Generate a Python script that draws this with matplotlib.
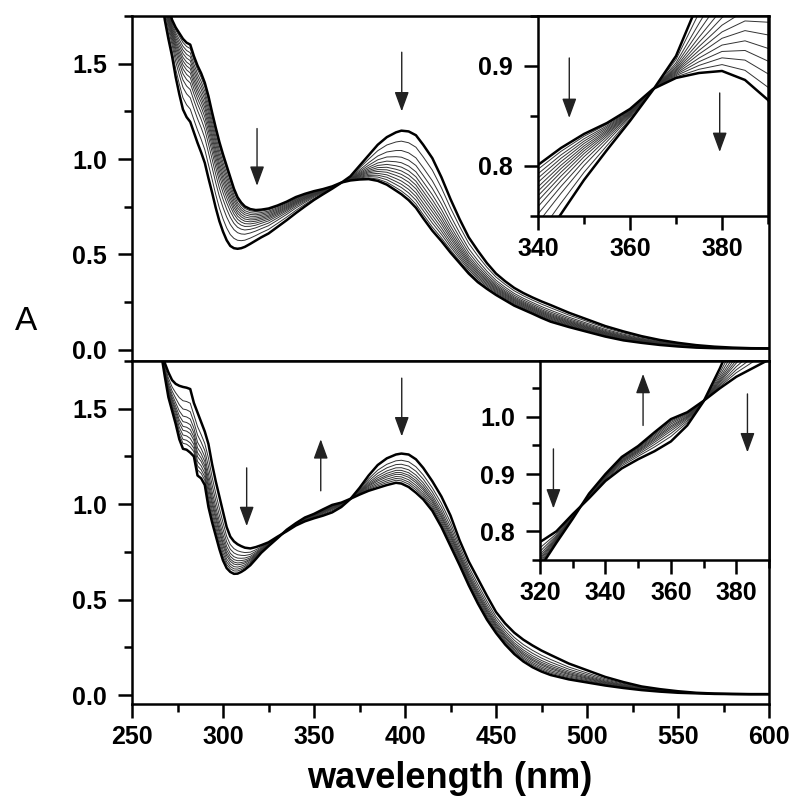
import numpy as np
import matplotlib.pyplot as plt
from matplotlib.ticker import MultipleLocator

plt.rcParams['font.family'] = ['Liberation Sans', 'DejaVu Sans']

# wavelength grid (nm) shared by all spectra
wl = [260, 265, 268, 270, 272, 274, 276, 278, 280, 282,
      284, 286, 288, 290, 292, 294, 296, 298, 300, 302,
      304, 306, 308, 310, 312, 315, 318, 321, 325, 330,
      335, 340, 345, 350, 355, 360, 365, 370, 375, 380,
      385, 390, 395, 398, 402, 406, 410, 415, 420, 425,
      430, 435, 440, 445, 450, 455, 460, 465, 470, 475,
      480, 490, 500, 510, 520, 530, 540, 550, 560, 570,
      580, 590, 600]

# upper panel: first and last spectrum (absorbance)
top_start = [2.30, 1.95, 1.73, 1.63, 1.54, 1.43, 1.34, 1.26, 1.22, 1.195,
             1.14, 1.085, 1.035, 0.98, 0.90, 0.825, 0.745, 0.675, 0.62, 0.575,
             0.545, 0.533, 0.53, 0.533, 0.54, 0.556, 0.573, 0.59, 0.61, 0.645,
             0.68, 0.717, 0.752, 0.786, 0.816, 0.845, 0.876, 0.91, 0.965, 1.02,
             1.075, 1.115, 1.14, 1.149, 1.145, 1.125, 1.075, 1.005, 0.905, 0.79,
             0.685, 0.59, 0.52, 0.455, 0.40, 0.36, 0.325, 0.298, 0.275, 0.254,
             0.235, 0.195, 0.16, 0.125, 0.097, 0.072, 0.052, 0.037, 0.025, 0.017,
             0.012, 0.009, 0.008]
top_end = [2.40, 2.05, 1.88, 1.80, 1.73, 1.69, 1.66, 1.63, 1.61, 1.60,
           1.54, 1.49, 1.45, 1.40, 1.33, 1.245, 1.165, 1.09, 1.025, 0.965,
           0.905, 0.845, 0.80, 0.772, 0.752, 0.738, 0.733, 0.735, 0.741, 0.757,
           0.777, 0.801, 0.818, 0.832, 0.843, 0.857, 0.877, 0.888, 0.893, 0.895,
           0.886, 0.866, 0.835, 0.816, 0.785, 0.745, 0.69, 0.625, 0.57, 0.51,
           0.455, 0.40, 0.355, 0.32, 0.288, 0.26, 0.232, 0.211, 0.19, 0.168,
           0.148, 0.12, 0.095, 0.07, 0.05, 0.037, 0.026, 0.018, 0.012, 0.009,
           0.008, 0.007, 0.007]
# absorbance at 398 nm of every recorded spectrum, upper panel
top_peaks = [1.149, 1.094, 1.045, 1.010, 0.981, 0.958, 0.938, 0.920,
             0.903, 0.885, 0.868, 0.851, 0.833, 0.816]

# lower panel
bottom_start = [2.30, 1.92, 1.74, 1.69, 1.65, 1.63, 1.62, 1.614, 1.61, 1.603,
                1.53, 1.48, 1.43, 1.38, 1.315, 1.21, 1.12, 1.04, 0.96, 0.88,
                0.83, 0.805, 0.79, 0.78, 0.772, 0.768, 0.775, 0.785, 0.80, 0.83,
                0.858, 0.888, 0.91, 0.926, 0.94, 0.957, 0.985, 1.027, 1.085, 1.15,
                1.205, 1.24, 1.26, 1.265, 1.26, 1.235, 1.19, 1.12, 1.04, 0.94,
                0.81, 0.70, 0.61, 0.52, 0.435, 0.375, 0.327, 0.29, 0.26, 0.233,
                0.21, 0.165, 0.13, 0.095, 0.068, 0.045, 0.031, 0.02, 0.012, 0.008,
                0.006, 0.005, 0.005]
bottom_end = [2.20, 1.85, 1.67, 1.56, 1.49, 1.42, 1.34, 1.29, 1.285, 1.27,
              1.25, 1.15, 1.135, 1.10, 0.985, 0.905, 0.835, 0.765, 0.705, 0.665,
              0.645, 0.635, 0.636, 0.645, 0.657, 0.68, 0.712, 0.745, 0.78, 0.822,
              0.866, 0.90, 0.93, 0.949, 0.973, 0.996, 1.008, 1.028, 1.05, 1.07,
              1.085, 1.10, 1.112, 1.108, 1.09, 1.06, 1.025, 0.965, 0.88, 0.78,
              0.68, 0.575, 0.48, 0.395, 0.325, 0.265, 0.215, 0.176, 0.146, 0.123,
              0.105, 0.082, 0.066, 0.05, 0.037, 0.026, 0.018, 0.012, 0.009, 0.006,
              0.005, 0.004, 0.004]
bottom_peaks = [1.265, 1.230, 1.209, 1.191, 1.177, 1.165, 1.155, 1.143,
                1.132, 1.122, 1.108]

# arrows: (wavelength, tail A, head A)
top_arrows = [(318.7, 1.16, 0.86), (398.2, 1.56, 1.25)]
top_inset_arrows = [(346.8, 0.908, 0.848), (379.5, 0.873, 0.814)]
bottom_arrows = [(313, 1.19, 0.885), (353.7, 1.07, 1.34), (398.2, 1.66, 1.355)]
bottom_inset_arrows = [(324.1, 0.944, 0.84), (351.5, 0.985, 1.075), (383.4, 1.04, 0.938)]


def spectra(start, end, peaks):
    start = np.array(start)
    end = np.array(end)
    out = []
    for p in peaks:
        w = (p - peaks[-1]) / (peaks[0] - peaks[-1])
        out.append(end + w * (start - end))
    return out


def draw_curves(ax, curves):
    for c in curves[1:-1]:
        ax.plot(wl, c, color='#333333', lw=0.7)
    ax.plot(wl, curves[0], color='black', lw=1.8)
    ax.plot(wl, curves[-1], color='black', lw=1.8)


def draw_arrows(ax, arrows):
    for x, y0, y1 in arrows:
        ax.annotate('', xy=(x, y1), xytext=(x, y0),
                    arrowprops=dict(arrowstyle='-|>,head_length=0.6,head_width=0.22',
                                    color='#222222', lw=1.0, mutation_scale=20,
                                    shrinkA=0, shrinkB=0))


def style(ax, fs=18):
    for s in ax.spines.values():
        s.set_linewidth(1.8)
    ax.tick_params(which='major', direction='out', length=10, width=1.8,
                   labelsize=fs)
    ax.tick_params(which='minor', direction='out', length=5.5, width=1.8)
    ax.tick_params(axis='x', which='major', pad=5)
    ax.tick_params(axis='y', which='major', pad=8)
    for lab in ax.get_xticklabels() + ax.get_yticklabels():
        lab.set_fontweight('bold')


top_curves = spectra(top_start, top_end, top_peaks)
bottom_curves = spectra(bottom_start, bottom_end, bottom_peaks)

fig = plt.figure(figsize=(8, 8.11), dpi=100)

ax1 = fig.add_axes([0.165, 0.5549, 0.7963, 0.4254])
ax2 = fig.add_axes([0.165, 0.1319, 0.7963, 0.4230])

for ax, curves, arrows in [(ax1, top_curves, top_arrows),
                           (ax2, bottom_curves, bottom_arrows)]:
    draw_curves(ax, curves)
    draw_arrows(ax, arrows)
    ax.set_xlim(250, 600)
    ax.xaxis.set_major_locator(MultipleLocator(50))
    ax.xaxis.set_minor_locator(MultipleLocator(25))
    ax.yaxis.set_major_locator(MultipleLocator(0.5))
    ax.yaxis.set_minor_locator(MultipleLocator(0.25))

ax1.set_ylim(-0.058, 1.75)
ax2.set_ylim(-0.047, 1.75)
style(ax1)
style(ax2)
ax1.tick_params(axis='x', which='both', bottom=False, labelbottom=False)

# insets
in1 = fig.add_axes([0.6725, 0.7337, 0.2875, 0.2466])
draw_curves(in1, top_curves)
draw_arrows(in1, top_inset_arrows)
in1.set_xlim(340, 390)
in1.set_ylim(0.75, 0.95)
in1.xaxis.set_major_locator(MultipleLocator(20))
in1.xaxis.set_minor_locator(MultipleLocator(10))
in1.yaxis.set_major_locator(MultipleLocator(0.1))
in1.yaxis.set_minor_locator(MultipleLocator(0.05))
style(in1)

in2 = fig.add_axes([0.675, 0.3095, 0.2863, 0.2450])
draw_curves(in2, bottom_curves)
draw_arrows(in2, bottom_inset_arrows)
in2.set_xlim(320, 390)
in2.set_ylim(0.75, 1.097)
in2.xaxis.set_major_locator(MultipleLocator(20))
in2.xaxis.set_minor_locator(MultipleLocator(10))
in2.yaxis.set_major_locator(MultipleLocator(0.1))
in2.yaxis.set_minor_locator(MultipleLocator(0.05))
style(in2)

fig.text(0.0325, 0.604, 'A', fontsize=24, ha='center', va='center')
fig.text(0.5625, 0.0284, 'wavelength (nm)', fontsize=26, fontweight='bold',
         ha='center', va='baseline')

fig.savefig('out.png', dpi=100)
